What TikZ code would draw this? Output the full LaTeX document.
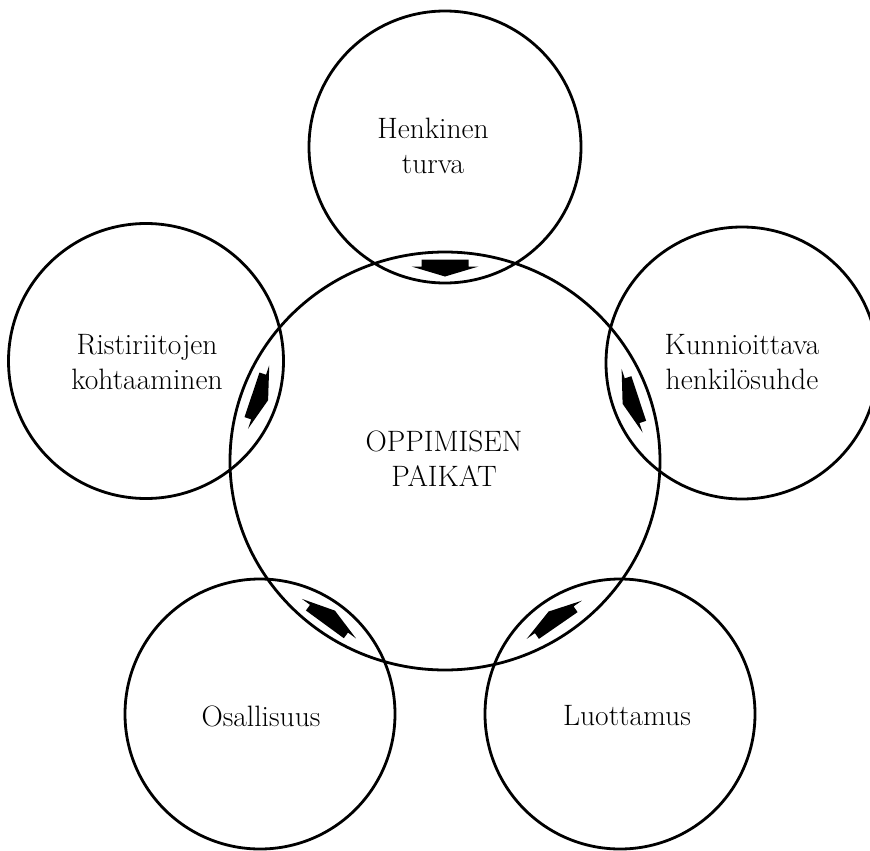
\documentclass[tikz,border=0pt]{standalone}
\usetikzlibrary{calc,shapes.geometric}
\begin{document}
\begin{tikzpicture}[x=1pt,y=-1pt,
  ring/.style={draw, line width=2.8pt, ellipse, inner sep=0pt, outer sep=0pt},
  caption/.style={align=center, font=\fontsize{29.5}{35}\selectfont},
  lensfill/.style={fill=black}
  ]
\useasboundingbox (0,0) rectangle (870,851);
\clip (0,0) rectangle (870,851);

% the central circle and the five surrounding ones
\node[ring, minimum width=430, minimum height=418] (C) at (445,461) {};
\node[ring, minimum width=272, minimum height=272] (T) at (445,147) {};
\node[ring, minimum width=275, minimum height=275] (L) at (146,361) {};
\node[ring, minimum width=272, minimum height=272] (R) at (742,363) {};
\node[ring, minimum width=270, minimum height=270] (BL) at (260,714) {};
\node[ring, minimum width=270, minimum height=270] (BR) at (620,714) {};

% captions
\node[caption] (tC) at (444,459) {OPPIMISEN\\PAIKAT};
\node[caption] (tT) at (433,146) {Henkinen\\turva};
\node[caption] (tL) at (147,362) {Ristiriitojen\\kohtaaminen};
\node[caption] (tR) at (742,362) {Kunnioittava\\henkilösuhde};
\node[caption] (tBL) at (261,716) {Osallisuus};
\node[caption] (tBR) at (627,716) {Luottamus};

% block arrow across the overlap of an outer circle #1 with the centre,
% pointing towards the centre
\newcommand\lensarrow[1]{%
  \path let \p1 = ($(C)-(#1)$), \n1 = {atan2(\y1,\x1)}, \n2 = {\n1+180} in
    coordinate (m#1) at ($(C.\n2)!0.5!(#1.\n1)$)
    \pgfextra{\xdef\lensangle{\n1}};
  \begin{scope}[shift={(m#1)}, rotate=\lensangle]
    \fill[lensfill] (-8,-23.5) -- (-1,-23.5) -- (-1,-33.5) -- (9,0)
      -- (-1,33.5) -- (-1,23.5) -- (-8,23.5) -- cycle;
  \end{scope}}
\lensarrow{T}
\lensarrow{L}
\lensarrow{R}
\lensarrow{BL}
\lensarrow{BR}
\end{tikzpicture}
\end{document}
